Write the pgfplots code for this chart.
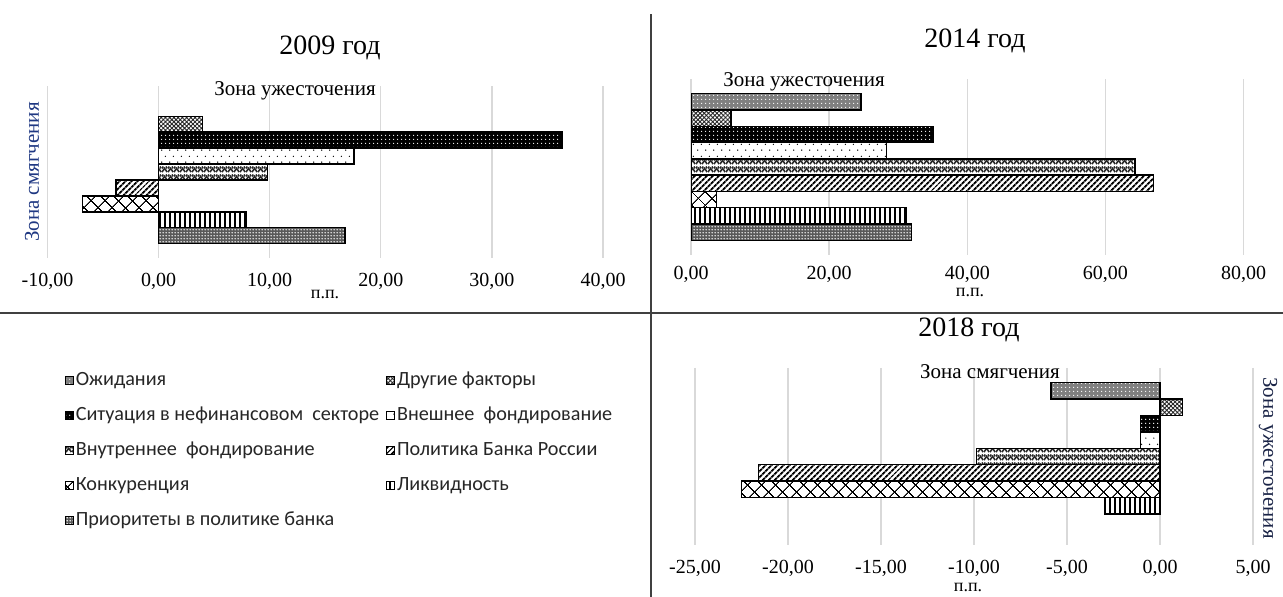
\documentclass[border=0pt]{standalone}
\usepackage{fontspec}
\setmainfont{Liberation Serif}
\newfontfamily\legfont{Carlito}
\usepackage{pgfplots}
\pgfplotsset{compat=1.18}
\usetikzlibrary{patterns,patterns.meta}

% fill patterns for the nine factors
\tikzdeclarepattern{name=dotsfour, type=uncolored,
  bounding box={(0pt,0pt) and (4pt,4pt)}, tile size={(4pt,4pt)},
  code={\fill (2pt,2pt) circle (0.8pt);}}
\tikzdeclarepattern{name=dotsthree, type=uncolored,
  bounding box={(0pt,0pt) and (3pt,3pt)}, tile size={(3pt,3pt)},
  code={\fill (1.5pt,1.5pt) circle (0.95pt);}}
\tikzdeclarepattern{name=sparsedots, type=uncolored,
  bounding box={(0pt,0pt) and (8pt,12pt)}, tile size={(8pt,12pt)},
  code={\fill (2pt,3pt) circle (0.75pt); \fill (6pt,9pt) circle (0.75pt);}}
\tikzdeclarepattern{name=zigzag, type=uncolored,
  bounding box={(0pt,0pt) and (6pt,8pt)}, tile size={(6pt,8pt)},
  code={\draw[line width=1.8pt] (0pt,1pt) -- (3pt,5pt) -- (6pt,1pt);
        \draw[line width=1.8pt] (0pt,5pt) -- (1.5pt,7pt);
        \draw[line width=1.8pt] (4.5pt,7pt) -- (6pt,5pt);}}

\definecolor{gridgray}{RGB}{217,217,217}
\definecolor{zoneblue}{RGB}{31,56,130}
\definecolor{zonenavy}{RGB}{25,35,70}
\definecolor{divider}{RGB}{64,64,64}

\pgfplotsset{
  sA/.style={fill=black!50, postaction={pattern=dotsfour, pattern color=white}},
  sB/.style={fill=white, postaction={pattern={Hatch[angle=45,distance=3pt,line width=0.9pt]}, pattern color=black!85}},
  sC/.style={fill=black, postaction={pattern=dotsfour, pattern color=white}},
  sD/.style={fill=white, postaction={pattern=sparsedots, pattern color=black}},
  sE/.style={fill=white, postaction={pattern=zigzag, pattern color=black!85}},
  sF/.style={fill=white, postaction={pattern={Lines[angle=45,distance=4pt,line width=2pt]}, pattern color=black}},
  sG/.style={fill=white, postaction={pattern={Hatch[angle=45,distance=10.5pt,line width=1.1pt]}, pattern color=black}},
  sH/.style={fill=white, postaction={pattern={Lines[angle=90,distance=5pt,line width=1.4pt]}, pattern color=black}},
  sI/.style={fill=black!65, postaction={pattern=dotsthree, pattern color=white}},
  panel/.style={
    scale only axis,
    anchor=south west,
    y dir=reverse,
    ymin=-1.4, ymax=9.4,
    ytick=\empty,
    axis line style={draw=none},
    tick style={draw=none},
    major tick length=0pt,
    xmajorgrids,
    grid style={draw=gridgray, line width=1.3pt},
    tick label style={font=\fontsize{20}{22}\selectfont},
    /pgf/number format/fixed,
    /pgf/number format/fixed zerofill,
    /pgf/number format/precision=2,
    /pgf/number format/use comma,
    /pgf/number format/assume math mode=true,
    every axis plot/.append style={xbar, bar width=1, bar shift=0pt,
      draw=black, line width=1.4pt},
  },
}

\begin{document}
\begin{tikzpicture}
\path[use as bounding box] (0pt,0pt) rectangle (1283pt,-597pt);

% ---------- 2009 ----------
\begin{axis}[panel, at={(47.5pt,-258pt)}, width=555.5pt, height=172pt,
  xmin=-10, xmax=40, xtick={-10,0,...,40},
  xticklabel style={yshift=-12pt}]
\addplot[sB] coordinates {(3.96,1)};
\addplot[sC] coordinates {(36.3,2)};
\addplot[sD] coordinates {(17.6,3)};
\addplot[sE] coordinates {(9.8,4)};
\addplot[sF] coordinates {(-3.85,5)};
\addplot[sG] coordinates {(-6.86,6)};
\addplot[sH] coordinates {(7.85,7)};
\addplot[sI] coordinates {(16.76,8)};
\end{axis}

% ---------- 2014 ----------
\begin{axis}[panel, at={(691pt,-255pt)}, width=552.5pt, height=176pt,
  xmin=0, xmax=80, xtick={0,20,...,80},
  xticklabel style={yshift=-7.5pt}]
\addplot[sA] coordinates {(24.6,0)};
\addplot[sB] coordinates {(5.8,1)};
\addplot[sC] coordinates {(35.1,2)};
\addplot[sD] coordinates {(28.3,3)};
\addplot[sE] coordinates {(64.3,4)};
\addplot[sF] coordinates {(67.0,5)};
\addplot[sG] coordinates {(3.7,6)};
\addplot[sH] coordinates {(31.2,7)};
\addplot[sI] coordinates {(31.9,8)};
\end{axis}

% ---------- 2018 ----------
\begin{axis}[panel, at={(695pt,-545pt)}, width=558pt, height=177pt,
  xmin=-25, xmax=5, xtick={-25,-20,...,5},
  xticklabel style={yshift=-11.5pt}]
\addplot[sA] coordinates {(-5.85,0)};
\addplot[sB] coordinates {(1.22,1)};
\addplot[sC] coordinates {(-1.05,2)};
\addplot[sD] coordinates {(-1.05,3)};
\addplot[sE] coordinates {(-9.87,4)};
\addplot[sF] coordinates {(-21.6,5)};
\addplot[sG] coordinates {(-22.5,6)};
\addplot[sH] coordinates {(-2.95,7)};
\end{axis}

% ---------- legend ----------
\begin{axis}[scale only axis, anchor=south west, at={(0pt,-597pt)},
  width=1283pt, height=597pt, xmin=0, xmax=1, ymin=0, ymax=1, hide axis,
  legend columns=2,
  legend cell align=left,
  legend image code/.code={\draw[#1, draw=black, line width=0.8pt] (-1pt,-4pt) rectangle (7pt,4pt);},
  legend style={at={(axis description cs:0.0505,0.3820)}, anchor=north west,
    draw=none, fill=none, inner sep=0pt, row sep=13pt,
    font=\legfont\fontsize{20.2}{22}\selectfont, text=black!85,
    nodes={inner sep=2pt, text height=14pt, text depth=4pt},
    /tikz/every even column/.append style={column sep=5pt}},
]
\addlegendimage{sA}\addlegendentry{Ожидания}
\addlegendimage{sB}\addlegendentry{Другие факторы}
\addlegendimage{sC}\addlegendentry{Ситуация в нефинансовом\ \ секторе}
\addlegendimage{sD}\addlegendentry{Внешнее\ \ фондирование}
\addlegendimage{sE}\addlegendentry{Внутреннее\ \ фондирование}
\addlegendimage{sF}\addlegendentry{Политика Банка России}
\addlegendimage{sG}\addlegendentry{Конкуренция}
\addlegendimage{sH}\addlegendentry{Ликвидность}
\addlegendimage{sI}\addlegendentry{Приоритеты\ в политике банка}
\end{axis}

% ---------- dividers ----------
\draw[divider, line width=2pt] (651pt,-14pt) -- (651pt,-597pt);
\draw[divider, line width=2pt] (0pt,-313pt) -- (1283pt,-313pt);

% ---------- titles and captions ----------
\begin{scope}[every node/.style={inner sep=0pt}]
\node[font=\fontsize{28}{30}\selectfont] at (330pt,-48pt) {2009 год};
\node[font=\fontsize{28}{30}\selectfont] at (975pt,-41pt) {2014 год};
\node[font=\fontsize{28}{30}\selectfont] at (969pt,-330pt) {2018 год};
\node[font=\fontsize{21}{23}\selectfont] at (295pt,-91pt) {Зона ужесточения};
\node[font=\fontsize{21}{23}\selectfont] at (804pt,-82pt) {Зона ужесточения};
\node[font=\fontsize{21}{23}\selectfont] at (990pt,-372pt) {Зона смягчения};
\node[font=\fontsize{21}{23}\selectfont, text=zoneblue, rotate=90] at (32pt,-172pt) {Зона смягчения};
\node[font=\fontsize{21}{23}\selectfont, text=zonenavy, rotate=-90] at (1268pt,-458pt) {Зона ужесточения};
\node[font=\fontsize{18}{20}\selectfont] at (325pt,-294pt) {п.п.};
\node[font=\fontsize{18}{20}\selectfont] at (970pt,-292pt) {п.п.};
\node[font=\fontsize{18}{20}\selectfont] at (968pt,-587pt) {п.п.};
\end{scope}
\end{tikzpicture}
\end{document}
